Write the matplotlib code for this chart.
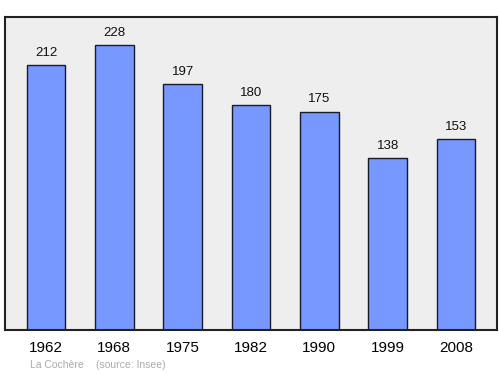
import matplotlib
matplotlib.use("Agg")
import matplotlib.pyplot as plt

years = ["1962", "1968", "1975", "1982", "1990", "1999", "2008"]
population = [212, 228, 197, 180, 175, 138, 153]

plt.rcParams['font.family'] = ['Liberation Sans', 'DejaVu Sans']

fig = plt.figure(figsize=(5.0, 3.74), dpi=100)
ax = fig.add_axes([0.01, 0.1176, 0.984, 0.837])
ax.set_facecolor('#eeeeee')
x = range(len(years))
ax.bar(x, population, width=0.57, color='#7799ff', edgecolor='#1a1a2e', linewidth=1.0, zorder=2)
for xi, v in zip(x, population):
    ax.annotate(str(v), (xi, v), xytext=(0, 4.5), textcoords='offset points',
                ha='center', va='bottom', fontsize=9.5, color='#111111')
ax.set_xlim(-0.6, 6.6)
ax.set_ylim(0, max(population) * 1.1)
ax.set_xticks(list(x))
ax.set_xticklabels(years, fontsize=11)
ax.tick_params(axis='x', length=0, pad=8)
ax.set_yticks([])
for s in ax.spines.values():
    s.set_linewidth(1.5)
    s.set_color('#222222')
fig.text(30/500, 1 - 365/374, "La Cochère", fontsize=7.5, color='#aaaaaa', va='center', ha='left')
fig.text(96/500, 1 - 365/374, "(source: Insee)", fontsize=7.5, color='#aaaaaa', va='center', ha='left')
fig.savefig("out.png", dpi=100, facecolor='white')
